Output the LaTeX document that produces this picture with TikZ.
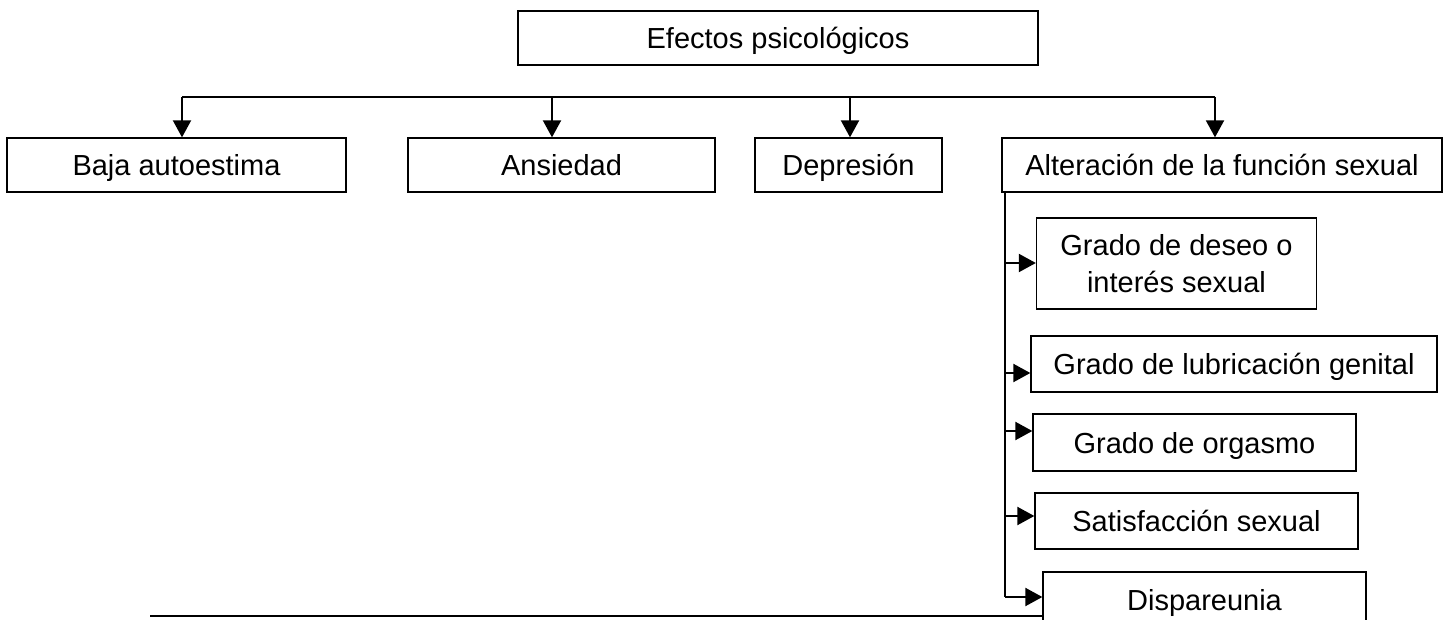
\documentclass[tikz,border=0pt]{standalone}
\usepackage{fontspec}
\setmainfont{Liberation Sans}
\usetikzlibrary{arrows.meta}
\begin{document}
\begin{tikzpicture}[x=1pt,y=-1pt,
  box/.style={draw,line width=1.3pt,inner sep=0pt,font=\fontsize{29}{37}\selectfont,text height=24pt,text depth=3pt},
  mbox/.style={draw,line width=1.3pt,inner sep=0pt,align=center,font=\fontsize{29}{37}\selectfont},
  conn/.style={line width=2pt},
  arr/.style={line width=2pt,-{Triangle[width=18pt,length=17pt]}}]
\useasboundingbox (0,0) rectangle (1448,620);
\node[box,minimum width=520pt,minimum height=54pt] (top) at (778,38) {Efectos psicológicos};
\node[box,minimum width=339pt,minimum height=54pt] (baja) at (176.5,165) {Baja autoestima};
\node[box,minimum width=307pt,minimum height=54pt] (ans) at (561.5,165) {Ansiedad};
\node[box,minimum width=187pt,minimum height=54pt] (dep) at (848.5,165) {Depresión};
\node[box,minimum width=440pt,minimum height=54pt] (alt) at (1222,165) {Alteración de la función sexual};
\node[mbox,minimum width=280pt,minimum height=91pt] (deseo) at (1176.5,263.5) {Grado de deseo o\\interés sexual};
\node[box,minimum width=406pt,minimum height=56pt] (lub) at (1234,364) {Grado de lubricación genital};
\node[box,minimum width=323pt,minimum height=57pt] (org) at (1194.5,442.5) {Grado de orgasmo};
\node[box,minimum width=323pt,minimum height=56pt] (sat) at (1196.5,521) {Satisfacción sexual};
\node[box,minimum width=323pt,minimum height=56pt] (disp) at (1204.5,600) {Dispareunia};
% top distribution line
\coordinate (h1) at (182,97);
\coordinate (h2) at (552,97);
\coordinate (h3) at (850,97);
\coordinate (h4) at (1215,97);
\draw[conn] (h1) -- (h4);
\draw[arr] (h1) -- (h1 |- baja.north);
\draw[arr] (h2) -- (h2 |- ans.north);
\draw[arr] (h3) -- (h3 |- dep.north);
\draw[arr] (h4) -- (h4 |- alt.north);
% vertical branch
\coordinate (v0) at (1005,192);
\coordinate (v1) at (1005,597);
\draw[conn] (v0) -- (v1);
\coordinate (a1) at (1005,263);
\coordinate (a2) at (1005,373);
\coordinate (a3) at (1005,431);
\coordinate (a4) at (1005,516);
\draw[arr] (a1) -- (a1 -| deseo.west);
\draw[arr] (a2) -- (a2 -| lub.west);
\draw[arr] (a3) -- (a3 -| org.west);
\draw[arr] (a4) -- (a4 -| sat.west);
\draw[arr] (v1) -- (v1 -| disp.west);
% bottom line
\coordinate (b0) at (150,616);
\draw[conn] (b0) -- (b0 -| disp.west);
\end{tikzpicture}
\end{document}
